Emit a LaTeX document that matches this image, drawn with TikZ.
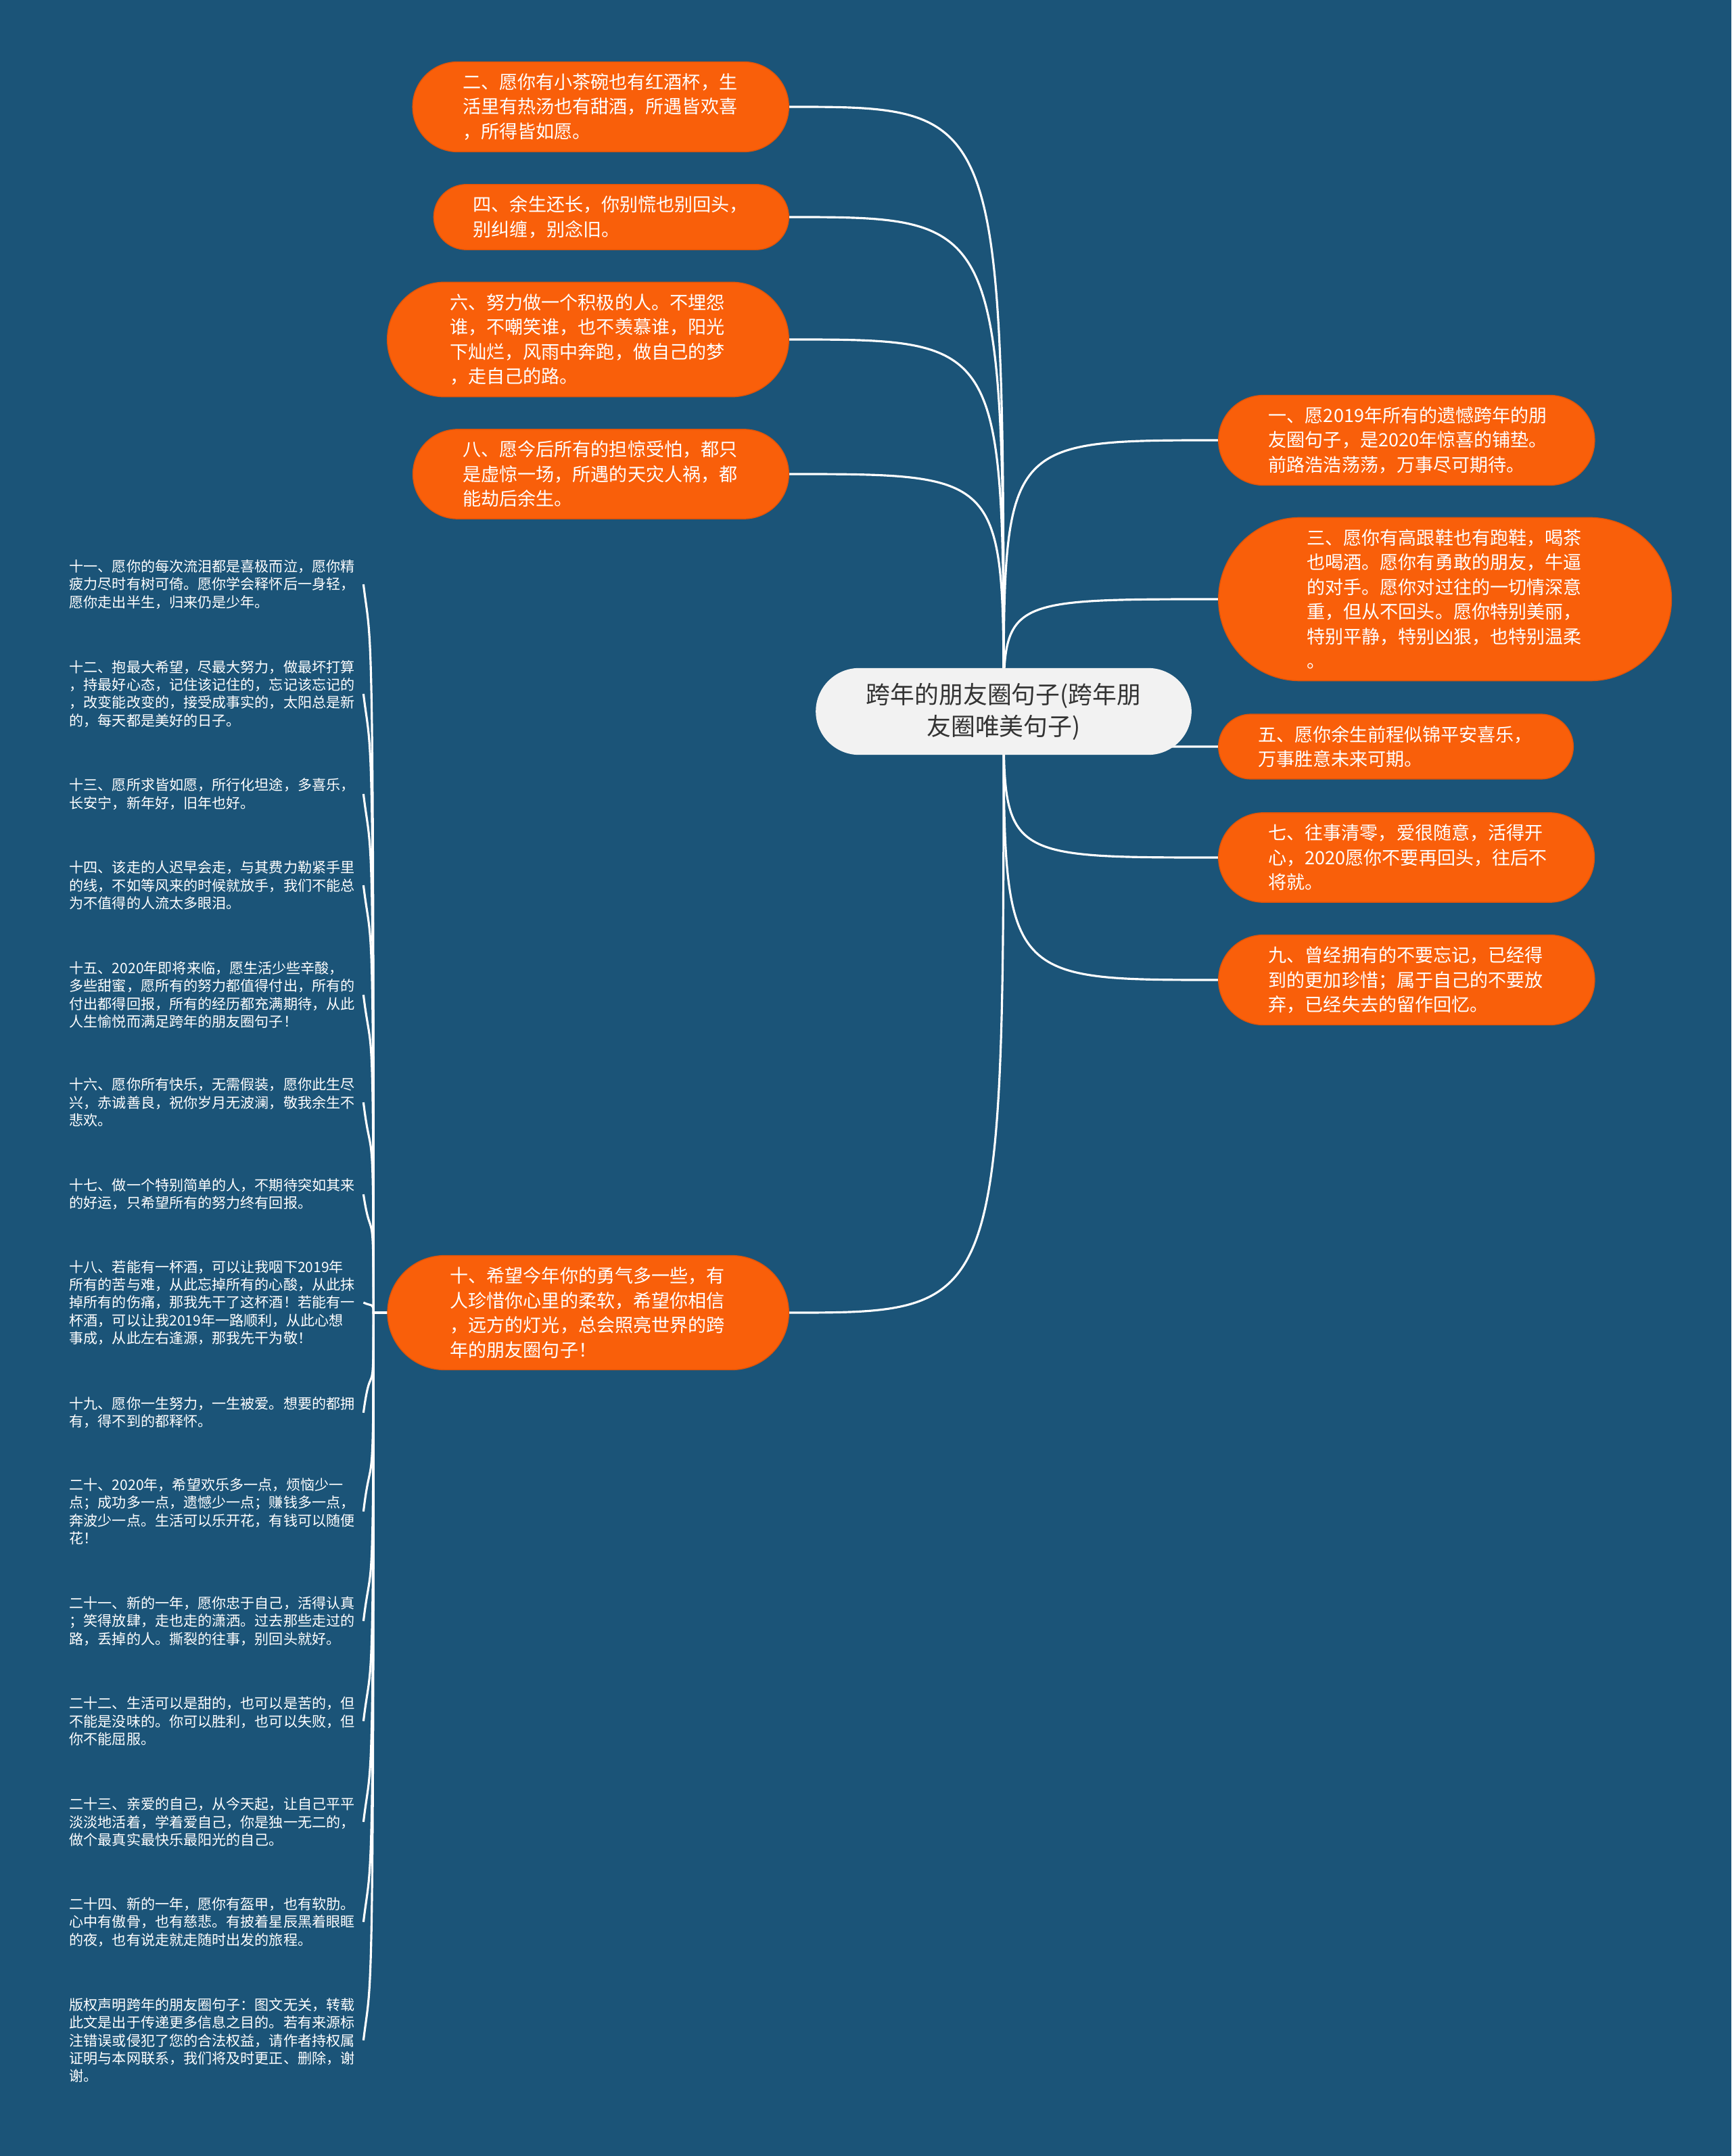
\documentclass[tikz,border=0pt]{standalone}
\usepackage{fontspec}
\setmainfont{Noto Sans CJK SC}
\usetikzlibrary{shapes.misc,calc}
\pgfdeclarelayer{wires}
\pgfsetlayers{wires,main}
\definecolor{bgblue}{RGB}{27,84,120}
\definecolor{kidorange}{RGB}{249,95,10}
\definecolor{kidedge}{RGB}{226,84,8}
\definecolor{hubgray}{RGB}{242,242,242}
\definecolor{hubtext}{RGB}{51,51,51}
\tikzset{
  hub/.style={rounded rectangle, fill=hubgray, text=hubtext, text width=4.12cm, align=center,
    inner xsep=0.56cm, inner ysep=0.22cm, font=\fontsize{10.2pt}{13.4pt}\selectfont},
  kid/.style={rounded rectangle, fill=kidorange, draw=kidedge, line width=0.4pt, text=white,
    text width=4.08cm, align=left, inner xsep=#1, inner ysep=0.17cm,
    font=\fontsize{7.7pt}{10.4pt}\selectfont},
  kid/.default=0.52cm,
  note/.style={anchor=west, text=white, text width=4.26cm, align=left, inner xsep=0.08cm,
    inner ysep=0pt, font=\fontsize{6pt}{7.5pt}\selectfont},
  branch/.style={draw=white, line width=0.9pt},
  twig/.style={draw=white, line width=0.9pt}
}
\begin{document}
\begin{tikzpicture}
  \useasboundingbox (0,0) rectangle (25.6,-31.88);
  % centre
  \node[hub] (hub) at (14.84,-10.52) {跨年的朋友圈句子(跨年朋\\友圈唯美句子)};
  % left side
  \node[kid, anchor=east] (n2) at (11.67,-1.58) {二、愿你有小茶碗也有红酒杯，生\\活里有热汤也有甜酒，所遇皆欢喜\\，所得皆如愿。};
  \node[kid=0.47cm, anchor=east] (n4) at (11.67,-3.21) {四、余生还长，你别慌也别回头，\\别纠缠，别念旧。};
  \node[kid=0.59cm, anchor=east] (n6) at (11.67,-5.02) {六、努力做一个积极的人。不埋怨\\谁，不嘲笑谁，也不羡慕谁，阳光\\下灿烂，风雨中奔跑，做自己的梦\\，走自己的路。};
  \node[kid, anchor=east] (n8) at (11.67,-7.01) {八、愿今后所有的担惊受怕，都只\\是虚惊一场，所遇的天灾人祸，都\\能劫后余生。};
  \node[kid=0.59cm, anchor=east] (n10) at (11.67,-19.41) {十、希望今年你的勇气多一些，有\\人珍惜你心里的柔软，希望你相信\\，远方的灯光，总会照亮世界的跨\\年的朋友圈句子！};
  % right side
  \node[kid, anchor=west] (n1) at (18.01,-6.51) {一、愿2019年所有的遗憾跨年的朋\\友圈句子，是2020年惊喜的铺垫。\\前路浩浩荡荡，万事尽可期待。};
  \node[kid=0.72cm, anchor=west] (n3) at (18.01,-8.86) {三、愿你有高跟鞋也有跑鞋，喝茶\\也喝酒。愿你有勇敢的朋友，牛逼\\的对手。愿你对过往的一切情深意\\重，但从不回头。愿你特别美丽，\\特别平静，特别凶狠，也特别温柔\\。};
  \node[kid=0.47cm, anchor=west] (n5) at (18.01,-11.04) {五、愿你余生前程似锦平安喜乐，\\万事胜意未来可期。};
  \node[kid, anchor=west] (n7) at (18.01,-12.68) {七、往事清零，爱很随意，活得开\\心，2020愿你不要再回头，往后不\\将就。};
  \node[kid, anchor=west] (n9) at (18.01,-14.49) {九、曾经拥有的不要忘记，已经得\\到的更加珍惜；属于自己的不要放\\弃，已经失去的留作回忆。};
  % notes under 十
  \node[note] (t11) at (0.94,-8.64) {十一、愿你的每次流泪都是喜极而泣，愿你精\\疲力尽时有树可倚。愿你学会释怀后一身轻，\\愿你走出半生，归来仍是少年。};
  \node[note] (t12) at (0.94,-10.26) {十二、抱最大希望，尽最大努力，做最坏打算\\，持最好心态，记住该记住的，忘记该忘记的\\，改变能改变的，接受成事实的，太阳总是新\\的，每天都是美好的日子。};
  \node[note] (t13) at (0.94,-11.74) {十三、愿所求皆如愿，所行化坦途，多喜乐，\\长安宁，新年好，旧年也好。};
  \node[note] (t14) at (0.94,-13.09) {十四、该走的人迟早会走，与其费力勒紧手里\\的线，不如等风来的时候就放手，我们不能总\\为不值得的人流太多眼泪。};
  \node[note] (t15) at (0.94,-14.71) {十五、2020年即将来临，愿生活少些辛酸，\\多些甜蜜，愿所有的努力都值得付出，所有的\\付出都得回报，所有的经历都充满期待，从此\\人生愉悦而满足跨年的朋友圈句子！};
  \node[note] (t16) at (0.94,-16.30) {十六、愿你所有快乐，无需假装，愿你此生尽\\兴，赤诚善良，祝你岁月无波澜，敬我余生不\\悲欢。};
  \node[note] (t17) at (0.94,-17.66) {十七、做一个特别简单的人，不期待突如其来\\的好运，只希望所有的努力终有回报。};
  \node[note] (t18) at (0.94,-19.26) {十八、若能有一杯酒，可以让我咽下2019年\\所有的苦与难，从此忘掉所有的心酸，从此抹\\掉所有的伤痛，那我先干了这杯酒！若能有一\\杯酒，可以让我2019年一路顺利，从此心想\\事成，从此左右逢源，那我先干为敬！};
  \node[note] (t19) at (0.94,-20.89) {十九、愿你一生努力，一生被爱。想要的都拥\\有，得不到的都释怀。};
  \node[note] (t20) at (0.94,-22.35) {二十、2020年，希望欢乐多一点，烦恼少一\\点；成功多一点，遗憾少一点；赚钱多一点，\\奔波少一点。生活可以乐开花，有钱可以随便\\花！};
  \node[note] (t21) at (0.94,-23.97) {二十一、新的一年，愿你忠于自己，活得认真\\；笑得放肆，走也走的潇洒。过去那些走过的\\路，丢掉的人。撕裂的往事，别回头就好。};
  \node[note] (t22) at (0.94,-25.45) {二十二、生活可以是甜的，也可以是苦的，但\\不能是没味的。你可以胜利，也可以失败，但\\你不能屈服。};
  \node[note] (t23) at (0.94,-26.94) {二十三、亲爱的自己，从今天起，让自己平平\\淡淡地活着，学着爱自己，你是独一无二的，\\做个最真实最快乐最阳光的自己。};
  \node[note] (t24) at (0.94,-28.42) {二十四、新的一年，愿你有盔甲，也有软肋。\\心中有傲骨，也有慈悲。有披着星辰黑着眼眶\\的夜，也有说走就走随时出发的旅程。};
  \node[note] (t25) at (0.94,-30.17) {版权声明跨年的朋友圈句子：图文无关，转载\\此文是出于传递更多信息之目的。若有来源标\\注错误或侵犯了您的合法权益，请作者持权属\\证明与本网联系，我们将及时更正、删除，谢\\谢。};
  \begin{pgfonlayer}{wires}
    \fill[bgblue] (0,0) rectangle (25.6,-31.88);
    \foreach \kid in {n1,n3,n5,n7,n9}
      \draw[branch] (hub.center) .. controls (hub.center |- \kid.west) .. (\kid.west);
    \foreach \kid in {n2,n4,n6,n8,n10}
      \draw[branch] (hub.center) .. controls (hub.center |- \kid.east) .. (\kid.east);
    \coordinate (trunk) at ($(n10.west)+(-0.2,0)$);
    \foreach \tip/\bend in {t11/-1.0,t12/-1.0,t13/-1.0,t14/-1.0,t15/-1.0,t16/-1.0,t17/-0.8,t18/-0.06,
                           t19/0.9,t20/1.0,t21/1.0,t22/1.0,t23/1.0,t24/1.0,t25/1.0}
      \draw[twig] (n10.west) -- (trunk) .. controls (trunk |- \tip.east) and +(0.12,\bend) .. (\tip.east);
  \end{pgfonlayer}
\end{tikzpicture}
\end{document}
